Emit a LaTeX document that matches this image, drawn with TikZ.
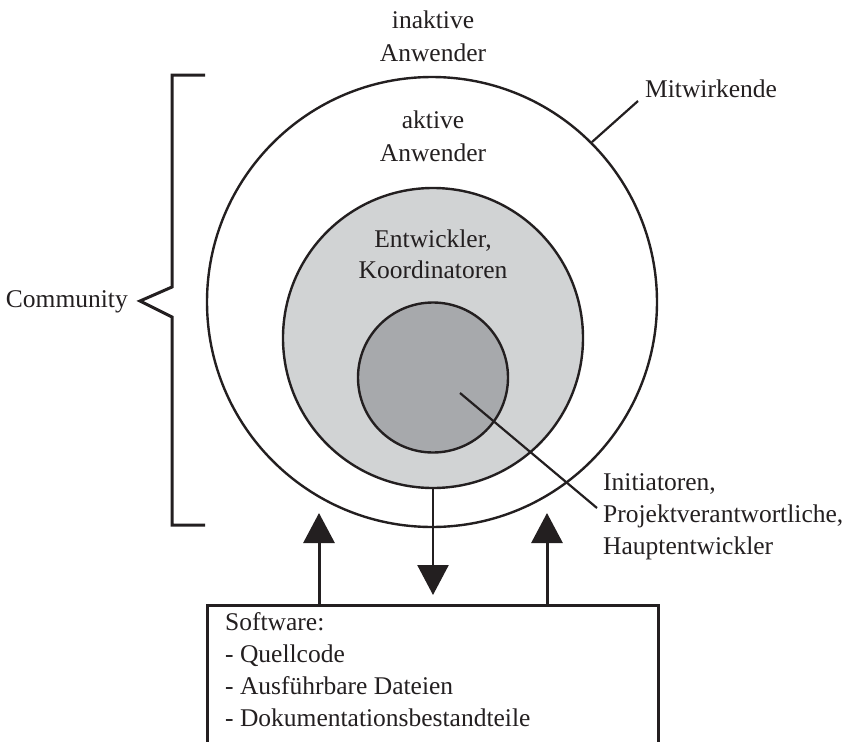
\documentclass[tikz,border=0pt]{standalone}
\usepackage{fontspec}
\setmainfont{Liberation Serif}
\usetikzlibrary{arrows.meta}
\definecolor{midgray}{HTML}{D1D3D4}
\definecolor{coregray}{HTML}{A7A9AC}
\definecolor{ink}{HTML}{231F20}
\tikzset{
  lbl/.style={inner sep=0pt, font=\fontsize{25.5}{32}\selectfont, text=ink},
  ring/.style={circle, draw=ink, line width=2.4pt, inner sep=0pt},
  thick line/.style={draw=ink, line width=3pt},
  leader/.style={draw=ink, line width=2.2pt},
  bigtip/.style={-{Triangle[width=31pt,length=30pt]}}
}
\begin{document}
\begin{tikzpicture}[x=1pt,y=-1pt]
\useasboundingbox (0,0) rectangle (847,742);
% circles
\node[ring, minimum size=450pt] (outer) at (432,302) {};
\node[ring, fill=midgray, minimum size=300pt] (mid) at (433,338) {};
\node[ring, fill=coregray, minimum size=150pt] (core) at (433,377.5) {};
% labels in circles
\node[lbl, anchor=base] (ina1) at (433,28) {inaktive};
\node[lbl, anchor=base] (ina2) at (433,61) {Anwender};
\node[lbl, anchor=base] (akt1) at (433,128) {aktive};
\node[lbl, anchor=base] (akt2) at (433,161) {Anwender};
\node[lbl, anchor=base] (ent1) at (433,247) {Entwickler,};
\node[lbl, anchor=base] (ent2) at (433,278) {Koordinatoren};
% Mitwirkende
\node[lbl, anchor=base west] (mit) at (645,97) {Mitwirkende};
\coordinate (mitend) at (638,101);
\draw[leader] (outer.45) -- (mitend);
% core leader
\node[lbl, anchor=base west] (ini1) at (603,490) {Initiatoren,};
\node[lbl, anchor=base west] (ini2) at (603,522) {Projektverantwortliche,};
\node[lbl, anchor=base west] (ini3) at (603,554) {Hauptentwickler};
\coordinate (corept) at (460,393);
\coordinate (iniend) at (597,508);
\draw[leader] (corept) -- (iniend);
% community bracket
\node[lbl, anchor=base east] (com) at (128,307) {Community};
\coordinate (bt) at (205,75);
\coordinate (bb) at (205,525);
\draw[thick line, miter limit=10] (bt) -- (172,75) -- (172,287) -- (140,301) -- (172,317) -- (172,525) -- (bb);
% software box (open at the bottom)
\coordinate (boxtl) at (207,605);
\coordinate (boxtr) at (658,605);
\draw[thick line] (207,742) -- (boxtl) -- (boxtr) -- (658,742);
\node[lbl, anchor=base west] (sw1) at (225,630) {Software:};
\node[lbl, anchor=base west] (sw2) at (225,662) {- Quellcode};
\node[lbl, anchor=base west] (sw3) at (225,694) {- Ausführbare Dateien};
\node[lbl, anchor=base west] (sw4) at (225,726) {- Dokumentationsbestandteile};
% arrows
\coordinate (upL0) at (319,605);
\coordinate (upL1) at (319,513);
\coordinate (upR0) at (547,605);
\coordinate (upR1) at (547,513);
\coordinate (down1) at (433,595);
\draw[thick line, bigtip] (upL0) -- (upL1);
\draw[thick line, bigtip] (upR0) -- (upR1);
\draw[thick line, bigtip, line width=2.6pt] (mid.south) -- (down1);
\end{tikzpicture}
\end{document}
